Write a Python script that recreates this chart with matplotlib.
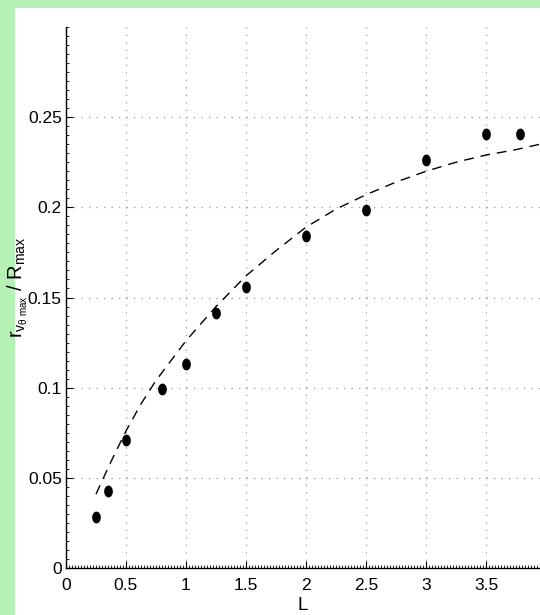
import matplotlib
matplotlib.use("Agg")
import matplotlib.pyplot as plt
from matplotlib.patches import Rectangle
from matplotlib.path import Path
from matplotlib.ticker import MultipleLocator
import numpy as np

# data
L_pts = [0.25, 0.35, 0.5, 0.8, 1.0, 1.25, 1.5, 2.0, 2.5, 3.0, 3.5, 3.78]
r_pts = [0.0283, 0.0427, 0.0708, 0.0992, 0.1133, 0.1415, 0.1556, 0.1840, 0.1983, 0.2265, 0.2406, 0.2406]

L_fit = [0.25, 0.375, 0.5, 0.625, 0.75, 0.875, 1.0, 1.25, 1.5, 1.75, 2.0, 2.25,
         2.5, 2.75, 3.0, 3.25, 3.5, 3.75, 3.95]
r_fit = [0.041, 0.059, 0.076, 0.091, 0.104, 0.115, 0.126, 0.145, 0.162, 0.176,
         0.189, 0.199, 0.207, 0.214, 0.220, 0.225, 0.229, 0.232, 0.235]

x_ticks = [0, 0.5, 1, 1.5, 2, 2.5, 3, 3.5]
x_ticklabels = ["0", "0.5", "1", "1.5", "2", "2.5", "3", "3.5"]
y_ticks = [0, 0.05, 0.1, 0.15, 0.2, 0.25]
y_ticklabels = ["0", "0.05", "0.1", "0.15", "0.2", "0.25"]

font = ["Liberation Sans Narrow", "Liberation Sans", "DejaVu Sans"]
plt.rcParams["font.family"] = font
plt.rcParams["mathtext.fontset"] = "custom"
plt.rcParams["mathtext.rm"] = "Liberation Sans"
plt.rcParams["mathtext.it"] = "Liberation Sans"

W, H = 540, 615
fig = plt.figure(figsize=(W / 100, H / 100), dpi=100)
fig.patch.set_facecolor("#b5f0b5")
bg = Rectangle((15 / W, 0), 1, (H - 8) / H, transform=fig.transFigure,
               facecolor="white", edgecolor="none", zorder=-10)
fig.patches.append(bg)

ax = fig.add_axes([66 / W, (H - 568) / H, (W - 66) / W, (568 - 27) / H])
ax.set_zorder(1)
ax.set_facecolor("white")
ax.set_xlim(0, 3.95)
ax.set_ylim(0, 0.3)

ax.set_xticks(x_ticks)
ax.set_xticklabels(x_ticklabels)
ax.set_yticks(y_ticks)
ax.set_yticklabels(y_ticklabels)
ax.xaxis.set_minor_locator(MultipleLocator(0.025))
ax.yaxis.set_minor_locator(MultipleLocator(0.005))
ax.tick_params(which="major", direction="in", length=5, width=0.8, labelsize=12.5, colors="black")
ax.tick_params(axis="x", which="major", pad=7)
ax.tick_params(axis="y", which="major", pad=3)
ax.tick_params(which="minor", direction="in", length=2, width=0.6)

for s in ["top", "right"]:
    ax.spines[s].set_visible(False)
for s in ["left", "bottom"]:
    ax.spines[s].set_linewidth(1.0)

ax.grid(True, which="major", color="#999999", linestyle=(0, (1, 5)), linewidth=0.9)
ax.set_axisbelow(True)

ax.plot(L_fit, r_fit, color="black", linestyle=(0, (7, 5)), linewidth=1.0)

t = np.linspace(0, 2 * np.pi, 40)
verts = np.column_stack([0.7 * np.cos(t), np.sin(t)])
ell = Path(verts, closed=True)
ax.plot(L_pts, r_pts, linestyle="none", marker=ell, markersize=7.5, color="black")

ax.set_xlabel("L", fontsize=13.5, labelpad=3)
ax.set_ylabel(r"r$_{v_{\theta\ max}}$ / R$_{max}$", fontsize=14.5)
ax.yaxis.set_label_coords(-0.076, 0.52)

fig.savefig("out.png", dpi=100, facecolor=fig.get_facecolor())
